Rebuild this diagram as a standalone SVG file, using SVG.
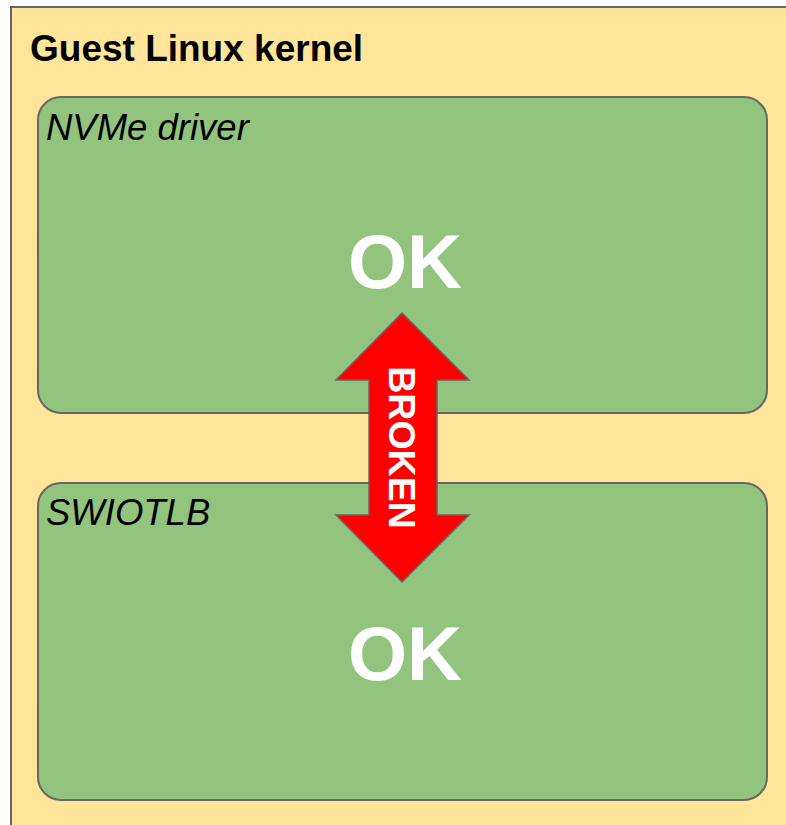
<svg xmlns="http://www.w3.org/2000/svg" width="786" height="825" viewBox="0 0 786 825">
<style>
.frame{fill:#ffe599;stroke:#666666;stroke-width:2}
.box{fill:#93c47d;stroke:#666666;stroke-width:2}
.title{font-family:"Liberation Sans",Arial,sans-serif;font-weight:bold;font-size:37px;fill:#000}
.lbl{font-family:"Liberation Sans",Arial,sans-serif;font-style:italic;font-size:36.5px;fill:#000}
.ok{font-family:"Liberation Sans",Arial,sans-serif;font-weight:bold;font-size:76px;fill:#fff;text-anchor:middle}
.arrow{fill:#ff0000;stroke:#666666;stroke-width:1.5;stroke-linejoin:miter}
.brk{font-family:"Liberation Sans",Arial,sans-serif;font-weight:bold;font-size:37.5px;fill:#fff;text-anchor:middle}
</style>
<rect width="786" height="825" fill="#ffffff"/>
<g id="guest-kernel">
<rect class="frame" x="11" y="7" width="800" height="840"/>
<text class="title" x="30" y="61">Guest Linux kernel</text>
</g>
<g id="nvme-driver">
<rect class="box" x="38" y="97" width="729" height="316" rx="23" ry="23"/>
<text class="lbl" x="46" y="140">NVMe driver</text>
<text class="ok" x="405" y="288">OK</text>
</g>
<g id="swiotlb">
<rect class="box" x="38" y="483" width="729" height="317" rx="23" ry="23"/>
<text class="lbl" x="46" y="525">SWIOTLB</text>
<text class="ok" x="405" y="680">OK</text>
</g>
<g id="connectors">
<polygon class="arrow" points="402,313 469,380 437,380 437,515 469,515 402,582 336,515 369,515 369,380 336,380"/>
<text class="brk" transform="translate(402,447.5) rotate(90)" x="0" y="13.5">BROKEN</text>
</g>
</svg>
